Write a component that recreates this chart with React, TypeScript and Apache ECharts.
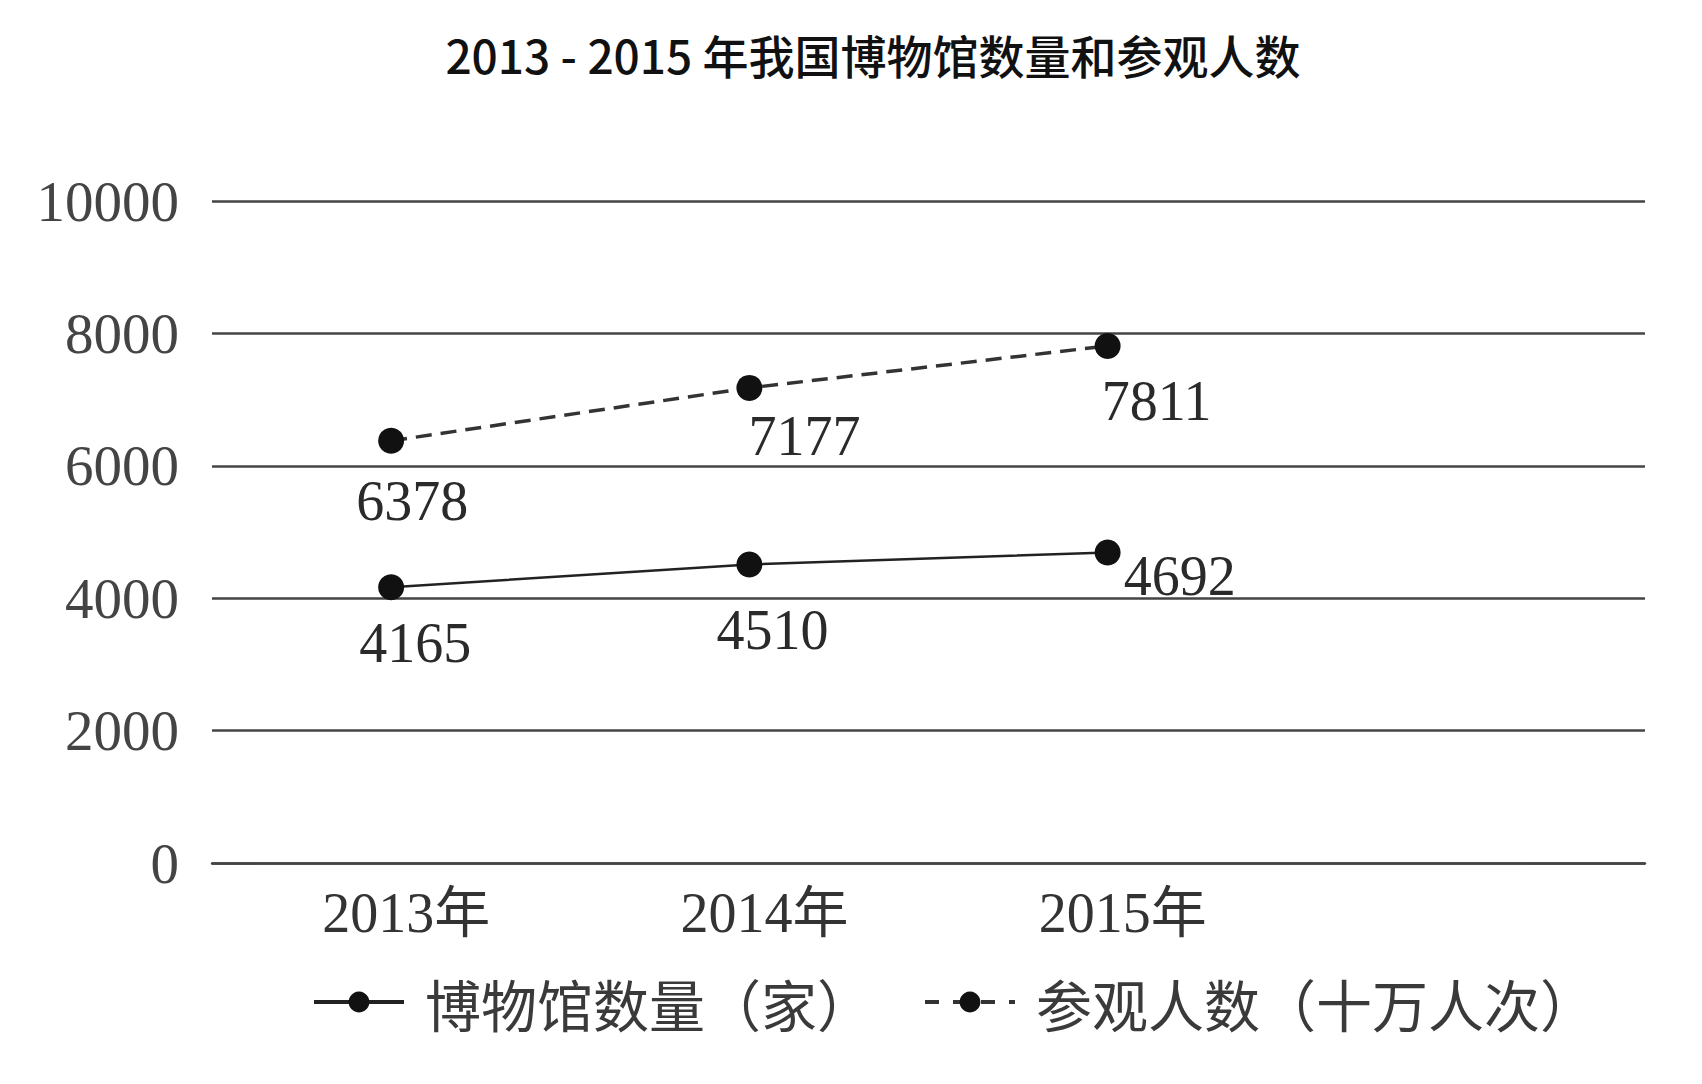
import React, { useEffect, useRef } from "react";
import * as echarts from "echarts";

const titleText = "2013 - 2015 年我国博物馆数量和参观人数";
const categories = ["2013年", "2014年", "2015年", ""];
const museumName = "博物馆数量（家）";
const visitorName = "参观人数（十万人次）";
const museumCounts = [4165, 4510, 4692];
const visitorCounts = [6378, 7177, 7811];
const yMin = 0;
const yMax = 10000;
const yInterval = 2000;

// label placement (pixels relative to each point)
const museumLabelOffsets = [
  [24, 56],
  [23, 66],
  [72, 24],
];
const visitorLabelOffsets = [
  [21, 60],
  [55, 48],
  [49, 55],
];

const serif = '"Liberation Serif", "Times New Roman", serif';
const cjk = '"Noto Sans CJK SC", "Noto Sans", sans-serif';

export default function App() {
  const ref = useRef<HTMLDivElement>(null);
  useEffect(() => {
    document.body.style.margin = "0";
    if (!ref.current) return;
    const chart = echarts.init(ref.current, undefined, { renderer: "svg" });
    const labelStyle = {
      show: true,
      position: "inside" as const,
      fontFamily: serif,
      fontSize: 56,
      color: "#2a2a2a",
    };
    const mkData = (vals: number[], offs: number[][]) =>
      vals.map((v, i) => ({ value: v, label: { ...labelStyle, offset: offs[i] } }));
    chart.setOption({
      animation: false,
      backgroundColor: "#ffffff",
      title: {
        text: titleText,
        left: 873,
        textAlign: "center",
        top: 31,
        padding: 0,
        textStyle: { fontFamily: cjk, fontSize: 46, fontWeight: 500, color: "#111" },
      },
      grid: { left: 212, right: 57, top: 201, bottom: 221, containLabel: false },
      legend: {
        left: 312,
        top: 974,
        itemWidth: 90,
        itemHeight: 26,
        itemGap: 50,
        padding: 0,
        data: [
          { name: museumName, lineStyle: { width: 4 } },
          { name: visitorName, lineStyle: { width: 4, type: [14, 14] } },
        ],
        textStyle: { fontFamily: cjk, fontSize: 56, color: "#3a3a3a", padding: [0, 0, 0, 16] },
      },
      xAxis: {
        type: "category",
        data: categories,
        boundaryGap: true,
        axisLine: { show: true, lineStyle: { color: "#444", width: 2.5 } },
        axisTick: { show: false },
        axisLabel: {
          fontFamily: serif + ", " + cjk,
          fontSize: 56,
          color: "#333",
          margin: 22,
          padding: [0, 0, 0, 30],
        },
        splitLine: { show: false },
      },
      yAxis: {
        type: "value",
        min: yMin,
        max: yMax,
        interval: yInterval,
        axisLine: { show: false },
        axisTick: { show: false },
        axisLabel: {
          fontFamily: serif,
          fontSize: 57,
          color: "#444",
          margin: 33,
          formatter: (v: number) => String(v),
        },
        splitLine: { show: true, lineStyle: { color: "#444", width: 2.5 } },
      },
      series: [
        {
          name: museumName,
          type: "line",
          data: mkData(museumCounts, museumLabelOffsets),
          symbol: "circle",
          symbolSize: 26,
          itemStyle: { color: "#111" },
          lineStyle: { color: "#222", width: 2.5, type: "solid" },
          label: labelStyle,
        },
        {
          name: visitorName,
          type: "line",
          data: mkData(visitorCounts, visitorLabelOffsets),
          symbol: "circle",
          symbolSize: 26,
          itemStyle: { color: "#111" },
          lineStyle: { color: "#333", width: 3.5, type: [16, 9] },
          label: labelStyle,
        },
      ],
    });
    return () => chart.dispose();
  }, []);
  return <div ref={ref} style={{ width: 1702, height: 1084 }} />;
}
